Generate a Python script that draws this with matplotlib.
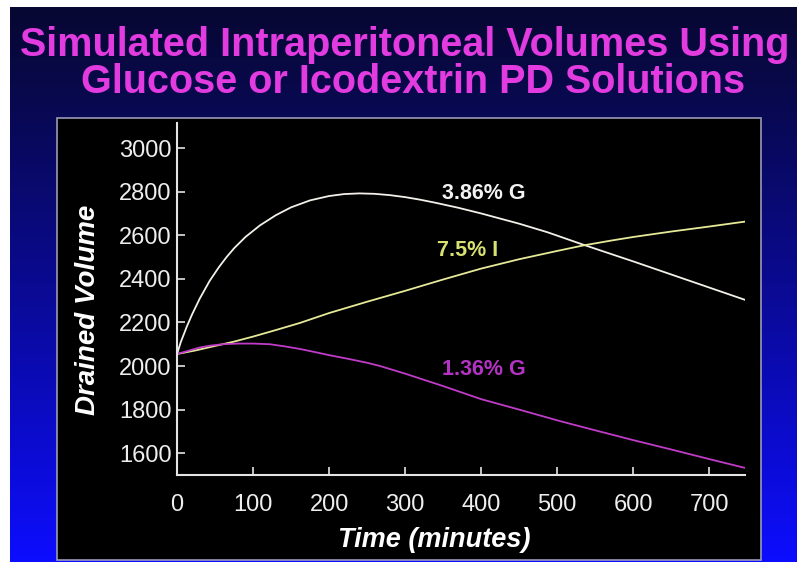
import numpy as np
import matplotlib
matplotlib.use("Agg")
import matplotlib.pyplot as plt
from matplotlib.patches import Rectangle

# time (minutes) and 3.86% glucose
time = [0, 5, 13, 20, 30, 43, 55, 65, 75, 90, 109, 130, 150, 175, 200, 220, 240, 260, 280, 300,
        320, 340, 370, 400, 450, 487, 534, 570, 600, 650, 700, 750]
g386 = [2055, 2110, 2182, 2238, 2310, 2391, 2453, 2499, 2540, 2592, 2645, 2692, 2728, 2760, 2780,
        2789, 2792, 2790, 2784, 2775, 2763, 2749, 2726, 2700, 2653, 2614, 2557, 2515, 2480, 2420,
        2360, 2300]

# 7.5% icodextrin
time_i = [0, 25, 50, 75, 100, 130, 162, 200, 250, 300, 350, 400, 450, 500, 534, 570, 600, 650, 700, 750]
ico75 = [2055, 2072, 2092, 2112, 2135, 2165, 2198, 2243, 2295, 2345, 2397, 2447, 2490, 2528, 2553,
         2575, 2592, 2617, 2640, 2664]

# 1.36% glucose
time_l = [0, 15, 30, 45, 60, 80, 100, 122, 142, 162, 180, 200, 225, 250, 267, 300, 350, 400, 450,
          504, 550, 600, 650, 700, 750]
g136 = [2055, 2070, 2085, 2094, 2100, 2103, 2103, 2100, 2090, 2078, 2065, 2050, 2033, 2015, 2000,
        1965, 1908, 1848, 1800, 1747, 1705, 1660, 1617, 1573, 1530]

xticks = [0, 100, 200, 300, 400, 500, 600, 700]
yticks = [1600, 1800, 2000, 2200, 2400, 2600, 2800, 3000]

W, H = 797, 562
fig = plt.figure(figsize=(W / 100, H / 100), dpi=100, facecolor="white")

# blue gradient slide background
bg = fig.add_axes([10 / W, 0, 1 - 10 / W, (H - 7) / H], zorder=-5)
bg.axis("off")
f = np.linspace(0, 1, 256)[:, None]
top = np.array([0.03, 0.03, 0.20])
bot = np.array([0.05, 0.05, 1.00])
grad = (top + (bot - top) * f ** 1.1)[:, None, :]
bg.imshow(grad, aspect="auto", extent=[0, 1, 0, 1], origin="upper")

# black chart panel
bg.add_patch(Rectangle((57 / W, 2 / H), (761 - 57) / W, (560 - 118) / H,
                       transform=fig.transFigure, facecolor="black",
                       edgecolor="#9a9ab8", linewidth=1.2, zorder=3))

title_color = "#e23be0"
fig.text(405 / W, 1 - 45 / H, "Simulated Intraperitoneal Volumes Using", color=title_color,
         fontsize=28.5, fontweight="bold", family="Liberation Sans", ha="center", va="center")
fig.text(413 / W, 1 - 82 / H, "Glucose or Icodextrin PD Solutions", color=title_color,
         fontsize=28.5, fontweight="bold", family="Liberation Sans", ha="center", va="center")

ax = fig.add_axes([177 / W, 87 / H, (745 - 177) / W, (475 - 123) / H], zorder=2)
ax.set_facecolor("none")
ax.plot(time, g386, color="#f2f0e8", lw=1.3)
ax.plot(time_i, ico75, color="#e6ea98", lw=1.3)
ax.plot(time_l, g136, color="#c03cc8", lw=1.3)

ax.set_xlim(0, 747)
ax.set_ylim(1500, 3115)
ax.set_xticks(xticks)
ax.set_yticks(yticks)

lc = "#e4e4e4"
for s in ["top", "right"]:
    ax.spines[s].set_visible(False)
for s in ["left", "bottom"]:
    ax.spines[s].set_color(lc)
    ax.spines[s].set_linewidth(1.5)
ax.tick_params(direction="in", length=6, width=1.2, color=lc, labelcolor="#eeeeee",
               labelsize=17)
ax.tick_params(axis="x", pad=14)
ax.tick_params(axis="y", pad=4)
for lab in ax.get_xticklabels() + ax.get_yticklabels():
    lab.set_family("Liberation Sans")

ax.text(403, 2793, "3.86% G", color="#f2f2f2", fontsize=15.5, fontweight="bold",
        family="Liberation Sans", ha="center", va="center")
ax.text(382, 2530, "7.5% I", color="#d8e070", fontsize=15.5, fontweight="bold",
        family="Liberation Sans", ha="center", va="center")
ax.text(404, 1986, "1.36% G", color="#b532c4", fontsize=15.5, fontweight="bold",
        family="Liberation Sans", ha="center", va="center")

fig.text(88 / W, 1 - 310 / H, "Drained Volume", color="white", fontsize=20, fontweight="bold",
         style="italic", family="Liberation Sans", rotation=90, ha="center", va="center")
fig.text(434 / W, 1 - 540 / H, "Time (minutes)", color="white", fontsize=19.5, fontweight="bold",
         style="italic", family="Liberation Sans", ha="center", va="center")

fig.savefig("out.png", dpi=100, facecolor="white")
